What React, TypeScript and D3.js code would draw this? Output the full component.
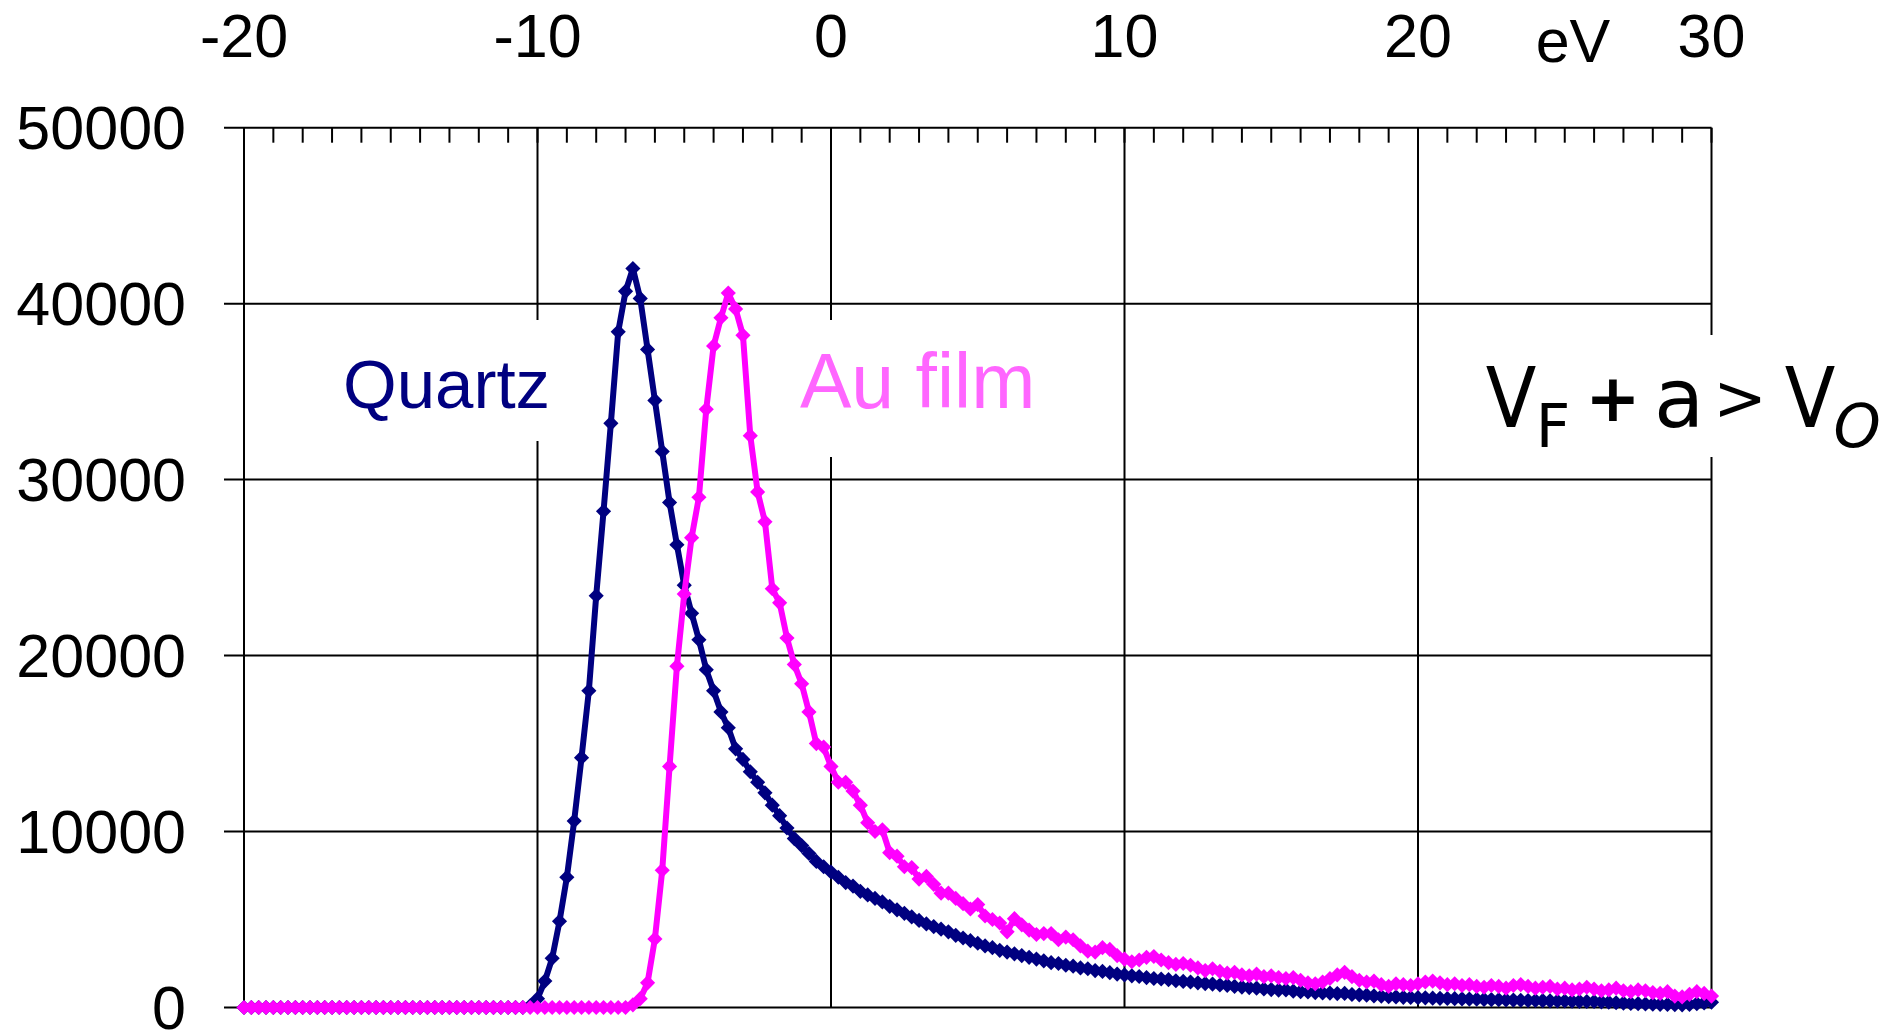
import React from 'react';
import * as d3 from 'd3';

// energy axis, one reading every 0.25 eV
const energies = d3.range(0, 201).map((i) => -20 + i * 0.25);

// counts, 4 readings per eV row
const quartz = [
  0, 0, 0, 0, 0, 0, 0, 0, 0, 0, 0, 0, 0, 0, 0, 0, 0, 0, 0, 0,
  0, 0, 0, 0, 0, 0, 0, 0, 0, 0, 0, 0, 0, 0, 0, 0, 0, 0, 0, 100,
  500, 1500, 2800, 4900, // -10
  7400, 10600, 14200, 18000,
  23400, 28200, 33200, 38400,
  40700, 42000, 40300, 37400,
  34500, 31600, 28700, 26300,
  24000, 22400, 20900, 19200, // -5
  18000, 16800, 15900, 14700,
  14100, 13400, 12800, 12200,
  11500, 10900, 10200, 9600,
  9200, 8750, 8300, 8000,
  7700, 7400, 7100, 6900, // 0
  6600, 6400, 6200, 6000,
  5750, 5550, 5350, 5150,
  4950, 4750, 4600, 4450,
  4300, 4100, 3950, 3800,
  3650, 3500, 3400, 3250, // 5
  3150, 3050, 2950, 2850,
  2750, 2650, 2550, 2500,
  2400, 2350, 2250, 2200,
  2100, 2050, 1980, 1900,
  1850, 1800, 1760, 1700, // 10
  1650, 1620, 1580, 1520,
  1480, 1450, 1400, 1360,
  1330, 1280, 1260, 1200,
  1160, 1130, 1100, 1050,
  1020, 990, 1000, 930, // 15
  900, 880, 850, 830,
  820, 790, 800, 740,
  720, 700, 660, 640,
  610, 600, 580, 570,
  560, 550, 530, 520, // 20
  510, 500, 490, 480,
  470, 460, 450, 440,
  430, 420, 410, 400,
  400, 390, 380, 370,
  370, 360, 350, 340, // 25
  340, 320, 300, 270,
  250, 230, 220, 200,
  190, 180, 170, 160,
  150, 170, 220, 260,
  300,
];

const auFilm = [
  0, 0, 0, 0, 0, 0, 0, 0, 0, 0, 0, 0, 0, 0, 0, 0, 0, 0, 0, 0,
  0, 0, 0, 0, 0, 0, 0, 0, 0, 0, 0, 0, 0, 0, 0, 0, 0, 0, 0, 0,
  0, 0, 0, 0, 0, 0, 0, 0, 0, 0, 0, 0,
  0, 150, 500, 1400, // -7
  3900, 7800, 13700, 19400,
  23500, 26700, 29000, 34000, // -5
  37600, 39200, 40600, 39700,
  38200, 32500, 29300, 27600,
  23800, 23000, 21000, 19500,
  18400, 16800, 15000, 14800,
  13700, 12800, 12800, 12300, // 0
  11500, 10500, 10000, 10100,
  8800, 8600, 8000, 7950,
  7300, 7450, 7000, 6500,
  6500, 6200, 5900, 5600,
  5850, 5200, 5000, 4800, // 5
  4300, 5050, 4700, 4400,
  4150, 4200, 4200, 3850,
  4000, 3850, 3500, 3200,
  3150, 3400, 3300, 2950,
  2750, 2600, 2700, 2850, // 10
  2900, 2700, 2550, 2450,
  2500, 2400, 2250, 2100,
  2200, 2050, 1950, 2000,
  1850, 1800, 1900, 1750,
  1800, 1700, 1650, 1700, // 15
  1550, 1400, 1350, 1450,
  1650, 1850, 2000, 1750,
  1550, 1450, 1500, 1300,
  1200, 1350, 1300, 1250,
  1350, 1450, 1500, 1400, // 20
  1300, 1350, 1250, 1300,
  1200, 1150, 1250, 1200,
  1100, 1250, 1300, 1200,
  1100, 1150, 1200, 1050,
  1100, 1000, 1050, 1150, // 25
  1050, 950, 1000, 1100,
  950, 900, 1000, 950,
  850, 800, 900, 650,
  600, 750, 900, 800,
  650,
];

const xTicks = [-20, -10, 0, 10, 20, 30];
const yTicks = [0, 10000, 20000, 30000, 40000, 50000];
const xMinor = d3.range(-20, 31, 1);

const W = 1903;
const H = 1032;

export default function App() {
  const x = d3.scaleLinear().domain([-20, 30]).range([244, 1711.5]);
  const y = d3.scaleLinear().domain([0, 50000]).range([1007.5, 127.7]);

  const line = d3
    .line<number>()
    .x((_, i) => x(energies[i]))
    .y((d) => y(d));

  const diamond = d3.symbol().type(d3.symbolSquare).size(115)();

  const series = [
    { name: 'Quartz', values: quartz, color: '#000080' },
    { name: 'Au film', values: auFilm, color: '#ff00ff' },
  ];

  const font = 'Liberation Sans, Arial, sans-serif';

  return (
    <svg
      width={W}
      height={H}
      style={{ position: 'absolute', left: 0, top: 0, background: '#fff' }}
    >
      {/* grid */}
      {yTicks.map((t) => (
        <line key={'h' + t} x1={224} x2={x(30)} y1={y(t)} y2={y(t)} stroke="#000" strokeWidth={2} />
      ))}
      {xTicks.map((t) => (
        <line key={'v' + t} x1={x(t)} x2={x(t)} y1={y(50000)} y2={y(0)} stroke="#000" strokeWidth={2} />
      ))}
      {xMinor.map((t) => (
        <line key={'m' + t} x1={x(t)} x2={x(t)} y1={y(50000)} y2={y(50000) + 15} stroke="#000" strokeWidth={2} />
      ))}

      {/* tick labels */}
      {xTicks.map((t) => (
        <text key={'xl' + t} x={x(t)} y={57} textAnchor="middle" fontFamily={font} fontSize={61}>
          {t}
        </text>
      ))}
      <text x={1573} y={62} textAnchor="middle" fontFamily={font} fontSize={61}>
        eV
      </text>
      {yTicks.map((t) => (
        <text key={'yl' + t} x={186} y={y(t) + 21} textAnchor="end" fontFamily={font} fontSize={61}>
          {t}
        </text>
      ))}

      {/* label boxes */}
      <rect x={333} y={320} width={228} height={121} fill="#fff" />
      <rect x={790} y={320} width={258} height={137} fill="#fff" />
      <rect x={1474} y={335} width={420} height={122} fill="#fff" />

      <text x={343} y={408} fontFamily={font} fontSize={69} fill="#000080">
        Quartz
      </text>
      <text x={800} y={408} fontFamily={font} fontSize={77} fill="#ff66ff">
        Au film
      </text>

      <g fontFamily="DejaVu Sans, sans-serif" fill="#000" textAnchor="middle">
        <text x={1511} y={427} fontSize={84} transform="translate(1511,0) scale(0.88,1) translate(-1511,0)">V</text>
        <text x={1553} y={447} fontSize={60}>F</text>
        <text x={1613} y={421} fontSize={66} fontWeight="bold">+</text>
        <text x={1679} y={427} fontSize={82}>a</text>
        <text x={1740} y={420} fontSize={64}>&gt;</text>
        <text x={1810} y={427} fontSize={84} transform="translate(1810,0) scale(0.88,1) translate(-1810,0)">V</text>
        <text x={1857} y={447} fontSize={60} fontStyle="italic">O</text>
      </g>

      {/* data */}
      {series.map((s) => (
        <g key={s.name}>
          <path d={line(s.values) || ''} fill="none" stroke={s.color} strokeWidth={6} strokeLinejoin="round" />
          {s.values.map((v, i) => (
            <path
              key={i}
              d={diamond || ''}
              transform={`translate(${x(energies[i])},${y(v)}) rotate(45)`}
              fill={s.color}
            />
          ))}
        </g>
      ))}
    </svg>
  );
}
